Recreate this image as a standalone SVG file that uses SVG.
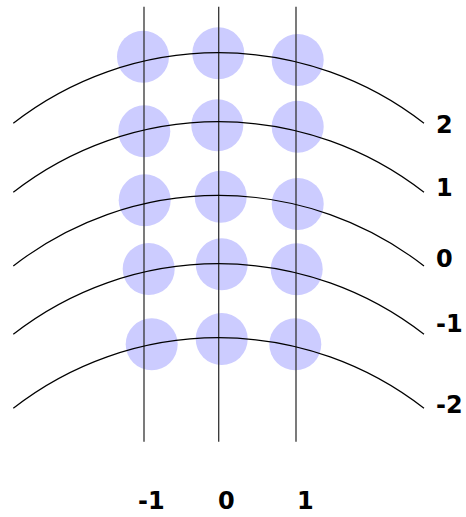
<svg xmlns="http://www.w3.org/2000/svg" width="466" height="517" viewBox="0 0 466 517">
  <style>
    .dot { fill: #ccccff; stroke: none; }
    .vline { stroke: #333333; stroke-width: 1.3; fill: none; }
    .arc { stroke: #000000; stroke-width: 1.2; fill: none; }
    .lbl { font-family: "DejaVu Sans", "Liberation Sans", sans-serif; font-size: 24px; font-weight: bold; fill: #000000; }
  </style>
  <rect width="466" height="517" fill="#ffffff"/>
  <g id="nodes">
    <g id="r2c-1"><circle class="dot" cx="143" cy="56.7" r="26"/></g>
    <g id="r2c0"><circle class="dot" cx="218.3" cy="53.3" r="26"/></g>
    <g id="r2c1"><circle class="dot" cx="297.7" cy="60" r="26"/></g>
    <g id="r1c-1"><circle class="dot" cx="144.3" cy="131.3" r="26"/></g>
    <g id="r1c0"><circle class="dot" cx="217.3" cy="125.3" r="26"/></g>
    <g id="r1c1"><circle class="dot" cx="297.7" cy="126.7" r="26"/></g>
    <g id="r0c-1"><circle class="dot" cx="144.7" cy="200.3" r="26"/></g>
    <g id="r0c0"><circle class="dot" cx="220.7" cy="196.7" r="26"/></g>
    <g id="r0c1"><circle class="dot" cx="297.7" cy="204" r="26"/></g>
    <g id="rm1c-1"><circle class="dot" cx="148.7" cy="269" r="26"/></g>
    <g id="rm1c0"><circle class="dot" cx="221.7" cy="264.3" r="26"/></g>
    <g id="rm1c1"><circle class="dot" cx="296.7" cy="269.3" r="26"/></g>
    <g id="rm2c-1"><circle class="dot" cx="151.7" cy="344.3" r="26"/></g>
    <g id="rm2c0"><circle class="dot" cx="221.7" cy="339" r="26"/></g>
    <g id="rm2c1"><circle class="dot" cx="295.3" cy="344.3" r="26"/></g>
  </g>
  <g id="connectors">
    <line class="vline" x1="144" y1="6.7" x2="144" y2="441.7"/>
    <line class="vline" x1="218.7" y1="6.7" x2="218.7" y2="441.7"/>
    <line class="vline" x1="296" y1="6.7" x2="296" y2="441.7"/>
    <path class="arc" d="M13.3 123.3 A334 334 0 0 1 424 123.3"/>
    <path class="arc" d="M13.3 192.3 A334 334 0 0 1 424 192.3"/>
    <path class="arc" d="M13.3 266 A334 334 0 0 1 424 266"/>
    <path class="arc" d="M13.3 334.3 A334 334 0 0 1 424 334.3"/>
    <path class="arc" d="M13.3 408.3 A334 334 0 0 1 424 408.3"/>
  </g>
  <g id="labels">
    <text class="lbl" x="436" y="133">2</text>
    <text class="lbl" x="436" y="196">1</text>
    <text class="lbl" x="436" y="267">0</text>
    <text class="lbl" x="436" y="332">-1</text>
    <text class="lbl" x="436" y="413">-2</text>
    <text class="lbl" x="138" y="509">-1</text>
    <text class="lbl" x="218" y="509">0</text>
    <text class="lbl" x="297" y="509">1</text>
  </g>
</svg>
